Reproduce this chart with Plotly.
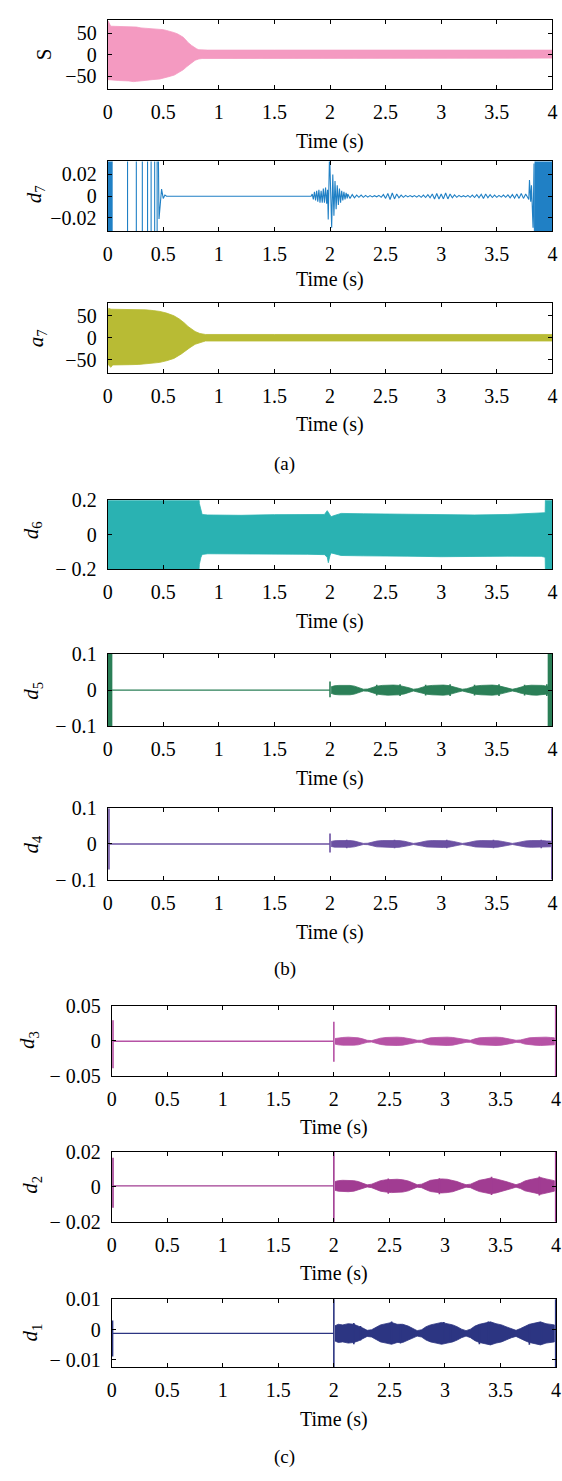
import plotly.graph_objects as go

FIG_W, FIG_H = 562, 1481
FONT = "Liberation Serif, serif"

TIME_TICKS = [0, 0.5, 1, 1.5, 2, 2.5, 3, 3.5, 4]
TIME_LABELS = ["0", "0.5", "1", "1.5", "2", "2.5", "3", "3.5", "4"]

# ---------------- (a) ----------------
S_t = [0.000, 0.005, 0.027, 0.10, 0.19, 0.23, 0.26, 0.30, 0.34, 0.40, 0.47, 0.50, 0.53, 0.565, 0.60, 0.63,
       0.66, 0.68, 0.71, 0.72, 0.755, 0.787, 0.80, 0.82, 0.85, 0.90, 1.50, 2.00, 2.50, 3.00, 3.50, 4.00]
S_hi = [62, 78, 66, 65.5, 65.5, 65.5, 64, 62, 61.5, 60.5, 59.5, 58, 56, 54, 51, 48,
        44, 40.3, 32, 28.8, 21.3, 15.2, 13.5, 11.4, 10.5, 10.5, 10.5, 10.5, 10.5, 10.5, 10.5, 10.5]
S_lo = [-54, -58, -59, -60, -61, -62.6, -62, -60.3, -59, -58, -56.5, -55, -52.6, -50, -47.3, -43,
        -38.2, -35, -28.3, -25.5, -19.2, -13, -11.4, -10, -9, -8, -8, -8, -8, -8, -8, -8]

D7_BLOCK_START = [0.0, 3.842]
D7_BLOCK_END = [0.043, 4.0]
D7_BLOCK_AMP = 0.1
D7_t = [0.043, 0.179, 0.179, 0.258, 0.258, 0.312, 0.312, 0.359, 0.359, 0.391, 0.391, 0.423, 0.423,
        0.445, 0.445, 0.450, 0.462, 0.485, 0.500, 0.515, 0.530,
        1.830, 1.840, 1.850, 1.860, 1.870, 1.880, 1.890, 1.900, 1.910, 1.920, 1.930, 1.940, 1.950,
        1.960, 1.970, 1.978, 1.984, 1.996, 2.015, 2.025, 2.035, 2.045, 2.055, 2.065, 2.075, 2.085,
        2.095, 2.105, 2.115, 2.125, 2.135, 2.145, 2.155,
        2.16, 2.18, 2.20, 2.22, 2.24, 2.26, 2.28, 2.30, 2.32, 2.34, 2.36, 2.38, 2.40, 2.42, 2.44,
        2.46, 2.48, 2.50, 2.52, 2.54, 2.56, 2.58, 2.60, 2.62, 2.64, 2.66, 2.68, 2.70, 2.72, 2.74,
        2.76, 2.78, 2.80, 2.82, 2.84, 2.86, 2.88, 2.90, 2.92, 2.94, 2.96, 2.98, 3.00, 3.02, 3.04,
        3.06, 3.08, 3.10, 3.12, 3.14, 3.16, 3.18, 3.20, 3.22, 3.24, 3.26, 3.28, 3.30, 3.32, 3.34,
        3.36, 3.38, 3.40, 3.42, 3.44, 3.46, 3.48, 3.50, 3.52, 3.54, 3.56, 3.58, 3.60, 3.62, 3.64,
        3.66, 3.68, 3.70, 3.72, 3.74, 3.76, 3.78,
        3.788, 3.794, 3.805, 3.812, 3.826, 3.835, 3.842]
D7_v = [-0.1, -0.1, 0.1, 0.1, -0.1, -0.1, 0.1, 0.1, -0.1, -0.1, 0.1, 0.1, -0.1,
        -0.1, 0.1, 0.1, -0.021, 0.0066, -0.002, 0.001, 0.0,
        0.0, 0.002, -0.003, 0.004, -0.004, 0.005, -0.005, 0.006, -0.006, 0.005, -0.006, 0.007, -0.006,
        0.008, -0.007, 0.006, -0.0215, 0.04, -0.029, 0.02, -0.018, 0.014, -0.012, 0.010, -0.008, 0.007,
        -0.006, 0.005, -0.004, 0.004, -0.003, 0.003, -0.002,
        0.002, -0.002, 0.0015, -0.0015, 0.001, -0.001, 0.001, -0.001, 0.0008, -0.0008, 0.0006, -0.0006, 0.0005, -0.0005, 0.0008,
        -0.001, 0.0015, -0.002, 0.0025, -0.003, 0.003, -0.0025, 0.002, -0.0015, 0.001, -0.001, 0.0008, -0.0006, 0.0006, -0.0005,
        0.0006, -0.0008, 0.0008, -0.001, 0.001, -0.0012, 0.0015, -0.0015, 0.002, -0.0025, 0.0025, -0.0025, 0.002, -0.0025, 0.003,
        -0.0025, 0.002, -0.0015, 0.0012, -0.001, 0.0008, -0.0006, 0.0005, -0.0006, 0.0008, -0.001, 0.001, -0.0012, 0.0015, -0.0015,
        0.0018, -0.002, 0.002, -0.0015, 0.0015, -0.0012, 0.001, -0.001, 0.0008, -0.0008, 0.001, -0.001, 0.0012, -0.0015, 0.0015,
        -0.0018, 0.002, -0.002, 0.0025, -0.002, 0.002, -0.0015,
        -0.003, 0.0148, -0.005, 0.010, -0.029, 0.03, -0.1]

A7_t = [0.000, 0.010, 0.030, 0.045, 0.20, 0.28, 0.34, 0.41, 0.47, 0.53, 0.596, 0.645, 0.66, 0.69, 0.723,
        0.74, 0.787, 0.83, 0.85, 0.88, 1.50, 2.00, 2.50, 3.00, 3.50, 4.00]
A7_hi = [60, 67, 65, 65, 65, 65, 63.6, 62, 60, 56.2, 50.2, 42.8, 40, 33.9, 26,
         22.8, 14.5, 10, 9, 7.8, 7.8, 7.8, 7.8, 7.8, 7.8, 7.8]
A7_lo = [-55, -62, -66.6, -61.3, -60.6, -60, -59.1, -57, -55.4, -51.7, -46.5, -39, -36.8, -31, -25.6,
         -22, -14.4, -10.5, -9.3, -7, -7, -7, -7, -7, -7, -7]

# ---------------- (b) ----------------
D6_t = [0.000, 0.812, 0.825, 0.838, 0.850, 0.90, 1.20, 1.50, 1.80, 1.95, 1.975, 1.985, 2.000, 2.010, 2.030,
        2.10, 2.30, 2.50, 2.70, 3.00, 3.30, 3.60, 3.90, 3.935, 3.940, 4.000]
D6_hi = [0.3, 0.3, 0.181, 0.143, 0.118, 0.115, 0.113, 0.117, 0.116, 0.118, 0.140, 0.130, 0.115, 0.105, 0.110,
         0.124, 0.122, 0.120, 0.118, 0.114, 0.115, 0.118, 0.126, 0.128, 0.3, 0.3]
D6_lo = [-0.3, -0.3, -0.171, -0.133, -0.114, -0.110, -0.110, -0.112, -0.113, -0.115, -0.130, -0.162, -0.120,
         -0.105, -0.110, -0.120, -0.122, -0.125, -0.124, -0.127, -0.126, -0.124, -0.125, -0.130, -0.3, -0.3]

BURST_T = [2.01, 2.04, 2.08, 2.13, 2.18, 2.22, 2.26, 2.30,
           2.34, 2.38, 2.42, 2.47, 2.52, 2.57, 2.62, 2.67, 2.71, 2.75,
           2.79, 2.83, 2.87, 2.92, 2.97, 3.02, 3.07, 3.11, 3.15, 3.19,
           3.23, 3.27, 3.31, 3.36, 3.41, 3.46, 3.51, 3.55, 3.60, 3.64,
           3.68, 3.72, 3.76, 3.81, 3.86, 3.91, 3.95, 3.985]

D5_BASE = 0.0
D5_LINE_T = [0.04, 2.0]
D5_AMP = [0.009, 0.012, 0.013, 0.0135, 0.013, 0.011, 0.007, 0.0025,
          0.003, 0.007, 0.011, 0.013, 0.014, 0.014, 0.013, 0.0105, 0.0065, 0.0025,
          0.004, 0.008, 0.0115, 0.013, 0.014, 0.014, 0.0125, 0.0095, 0.0055, 0.0025,
          0.004, 0.008, 0.0115, 0.013, 0.014, 0.014, 0.0125, 0.0095, 0.0055, 0.0025,
          0.005, 0.009, 0.012, 0.0135, 0.014, 0.013, 0.011, 0.010]
D5_SPIKE_T = [2.0, 2.42, 2.63, 2.86, 3.08, 3.30, 3.52, 3.75, 3.95]
D5_SPIKE_HI = [0.024, 0.015, 0.016, 0.015, 0.016, 0.015, 0.016, 0.015, 0.016]
D5_SPIKE_LO = [-0.020, -0.015, -0.016, -0.015, -0.016, -0.015, -0.016, -0.015, -0.016]
D5_BLOCK_START = [0.0, 3.96]
D5_BLOCK_END = [0.04, 4.0]
D5_BLOCK_AMP = 0.2

D4_BASE = 0.0
D4_LINE_T = [0.012, 2.0]
D4_AMP = [0.007, 0.009, 0.0095, 0.010, 0.0095, 0.008, 0.005, 0.0015,
          0.002, 0.005, 0.008, 0.0095, 0.010, 0.010, 0.0095, 0.0075, 0.0045, 0.0015,
          0.003, 0.006, 0.0085, 0.0095, 0.010, 0.010, 0.009, 0.007, 0.004, 0.0015,
          0.003, 0.006, 0.0085, 0.0095, 0.010, 0.010, 0.009, 0.007, 0.004, 0.0015,
          0.0035, 0.0065, 0.0085, 0.0095, 0.010, 0.0095, 0.0085, 0.008]
D4_SPIKE_T = [0.012, 2.0, 2.15, 2.58, 3.05, 3.47, 3.90, 3.995]
D4_SPIKE_HI = [0.1, 0.029, 0.012, 0.012, 0.012, 0.012, 0.012, 0.2]
D4_SPIKE_LO = [-0.072, -0.024, -0.012, -0.012, -0.012, -0.012, -0.012, -0.2]

# ---------------- (c) ----------------
D3_BASE = -0.0005
D3_LINE_T = [0.012, 2.0]
D3_AMP = [0.004, 0.005, 0.0055, 0.006, 0.0055, 0.005, 0.0035, 0.0015,
          0.001, 0.003, 0.0045, 0.0055, 0.006, 0.006, 0.0055, 0.0045, 0.003, 0.0015,
          0.0015, 0.0035, 0.005, 0.0055, 0.006, 0.006, 0.0055, 0.0045, 0.003, 0.0015,
          0.0015, 0.0035, 0.005, 0.0055, 0.006, 0.006, 0.0055, 0.0045, 0.003, 0.0015,
          0.002, 0.004, 0.005, 0.0055, 0.006, 0.006, 0.0055, 0.005]
D3_SPIKE_T = [0.012, 2.0, 3.997]
D3_SPIKE_HI = [0.0298, 0.0275, 0.1]
D3_SPIKE_LO = [-0.039, -0.0298, -0.1]

D2_BASE = 0.0004
D2_LINE_T = [0.012, 2.0]
D2_AMP = [0.0025, 0.003, 0.0032, 0.0033, 0.003, 0.0025, 0.0015, 0.0006,
          0.001, 0.002, 0.003, 0.0035, 0.0038, 0.0038, 0.0035, 0.0028, 0.0018, 0.0007,
          0.001, 0.0022, 0.0032, 0.0036, 0.004, 0.0038, 0.0033, 0.0025, 0.0015, 0.0007,
          0.001, 0.0022, 0.0032, 0.0038, 0.0045, 0.004, 0.0033, 0.0025, 0.0015, 0.0007,
          0.0015, 0.0028, 0.0035, 0.004, 0.0048, 0.004, 0.0035, 0.003]
D2_SPIKE_T = [0.012, 2.0, 2.49, 2.95, 3.42, 3.85, 3.997]
D2_SPIKE_HI = [0.0165, 0.05, 0.0046, 0.0048, 0.0056, 0.0058, 0.05]
D2_SPIKE_LO = [-0.0121, -0.05, -0.0040, -0.0044, -0.0048, -0.0050, -0.05]

D1_BASE = -0.00124
D1_LINE_T = [0.012, 2.0]
D1_AMP = [0.0025, 0.003, 0.0028, 0.0032, 0.003, 0.0025, 0.0018, 0.001,
          0.0012, 0.002, 0.0028, 0.0032, 0.0036, 0.003, 0.003, 0.0024, 0.0016, 0.0009,
          0.0012, 0.0022, 0.0028, 0.0032, 0.0036, 0.0032, 0.0028, 0.0022, 0.0014, 0.0009,
          0.0014, 0.0024, 0.003, 0.0034, 0.0038, 0.0032, 0.0028, 0.0022, 0.0014, 0.001,
          0.0016, 0.0024, 0.003, 0.0034, 0.0038, 0.0032, 0.003, 0.0028]
D1_SPIKE_T = [0.008, 2.0, 2.18, 2.24, 2.52, 2.60, 2.99, 3.05, 3.31, 3.39, 3.76, 3.87, 3.997]
D1_SPIKE_HI = [0.003, 0.03, 0.0022, 0.0012, 0.0027, 0.0018, 0.0025, 0.0016, 0.0015, 0.0027, 0.0012, 0.0020, 0.03]
D1_SPIKE_LO = [-0.0089, -0.03, -0.0048, -0.0036, -0.0040, -0.0046, -0.0045, -0.0038, -0.0048, -0.0042, -0.0050, -0.0042, -0.03]

# ---------------- layout spec (pixels) ----------------
PANELS = [
    dict(box=(104.5, 557.3, 9.3, 79.3), yr=[-80, 80], yt=[-50, 0, 50], yl=["\u221250", "0", "50"],
         title="S", tpos=(39.4, 44.3), time_y=132, color="#F49AC1"),
    dict(box=(104.5, 557.3, 152.7, 223.3), yr=[-0.032, 0.032], yt=[-0.02, 0, 0.02],
         yl=["\u22120.02", "0", "0.02"], title="<i>d</i><sub>7</sub>", tpos=(30.5, 186), time_y=273,
         color="#2080C5"),
    dict(box=(104.5, 557.3, 296, 367.7), yr=[-80, 80], yt=[-50, 0, 50], yl=["\u221250", "0", "50"],
         title="<i>a</i><sub>7</sub>", tpos=(32, 331.7), time_y=420, color="#B8BB34"),
    dict(box=(104.5, 557.3, 496.7, 566.7), yr=[-0.2, 0.2], yt=[-0.2, 0, 0.2],
         yl=["\u2212 0.2", "0", "0.2"], title="<i>d</i><sub>6</sub>", tpos=(27.6, 527), time_y=620,
         color="#2AB2B2"),
    dict(box=(104.5, 557.3, 652.7, 726), yr=[-0.1, 0.1], yt=[-0.1, 0, 0.1],
         yl=["\u2212 0.1", "0", "0.1"], title="<i>d</i><sub>5</sub>", tpos=(27.6, 690), time_y=779,
         color="#2B7F57"),
    dict(box=(104.5, 557.3, 809.3, 881.7), yr=[-0.1, 0.1], yt=[-0.1, 0, 0.1],
         yl=["\u2212 0.1", "0", "0.1"], title="<i>d</i><sub>4</sub>", tpos=(27.6, 846), time_y=935,
         color="#6B50A2"),
    dict(box=(108.6, 561, 1010, 1081), yr=[-0.05, 0.05], yt=[-0.05, 0, 0.05],
         yl=["\u2212 0.05", "0", "0.05"], title="<i>d</i><sub>3</sub>", tpos=(24, 1045), time_y=1133,
         color="#B652A5"),
    dict(box=(108.6, 561, 1157.7, 1229), yr=[-0.02, 0.02], yt=[-0.02, 0, 0.02],
         yl=["\u2212 0.02", "0", "0.02"], title="<i>d</i><sub>2</sub>", tpos=(27, 1192), time_y=1282,
         color="#A13C92"),
    dict(box=(108.6, 561, 1307.7, 1376.7), yr=[-0.0124, 0.01], yt=[-0.01, 0, 0.01],
         yl=["\u2212 0.01", "0", "0.01"], title="<i>d</i><sub>1</sub>", tpos=(27, 1342), time_y=1430,
         color="#2C3582"),
]
CAPTIONS = [("(a)", 285, 460), ("(b)", 285, 972), ("(c)", 285, 1468)]


def px(xp):
    return xp / FIG_W


def py(yp):
    return 1 - yp / FIG_H


def band_xy(t, hi, lo):
    return list(t) + list(t)[::-1], list(hi) + list(lo)[::-1]


def blocks_xy(starts, ends, amp):
    xs, ys = [], []
    for a, b in zip(starts, ends):
        xs += [a, b, b, a, a, None]
        ys += [-amp, -amp, amp, amp, -amp, None]
    return xs, ys


def spikes_xy(ts, his, los):
    xs, ys = [], []
    for t, h, l in zip(ts, his, los):
        xs += [t, t, None]
        ys += [l, h, None]
    return xs, ys


fig = go.Figure()


def ax(i):
    return ("x", "y") if i == 0 else (f"x{i+1}", f"y{i+1}")


def add_band(i, t, hi, lo, color, lw=0.8):
    xa, ya = ax(i)
    x, y = band_xy(t, hi, lo)
    fig.add_trace(go.Scatter(x=x, y=y, xaxis=xa, yaxis=ya, mode="lines", fill="toself",
                             fillcolor=color, line=dict(color=color, width=lw),
                             hoverinfo="skip", showlegend=False))


def add_line(i, x, y, color, lw=1.2):
    xa, ya = ax(i)
    fig.add_trace(go.Scatter(x=x, y=y, xaxis=xa, yaxis=ya, mode="lines",
                             line=dict(color=color, width=lw), hoverinfo="skip",
                             showlegend=False, connectgaps=False))


def add_blocks(i, starts, ends, amp, color):
    xa, ya = ax(i)
    x, y = blocks_xy(starts, ends, amp)
    fig.add_trace(go.Scatter(x=x, y=y, xaxis=xa, yaxis=ya, mode="lines", fill="toself",
                             fillcolor=color, line=dict(color=color, width=0.5),
                             hoverinfo="skip", showlegend=False))


add_band(0, S_t, S_hi, S_lo, PANELS[0]["color"])
c = PANELS[1]["color"]
add_blocks(1, D7_BLOCK_START, D7_BLOCK_END, D7_BLOCK_AMP, c)
add_line(1, D7_t, D7_v, c, 1.1)
add_band(2, A7_t, A7_hi, A7_lo, PANELS[2]["color"])
add_band(3, D6_t, D6_hi, D6_lo, PANELS[3]["color"])

lower = [
    (4, D5_BASE, D5_LINE_T, D5_AMP, D5_SPIKE_T, D5_SPIKE_HI, D5_SPIKE_LO),
    (5, D4_BASE, D4_LINE_T, D4_AMP, D4_SPIKE_T, D4_SPIKE_HI, D4_SPIKE_LO),
    (6, D3_BASE, D3_LINE_T, D3_AMP, D3_SPIKE_T, D3_SPIKE_HI, D3_SPIKE_LO),
    (7, D2_BASE, D2_LINE_T, D2_AMP, D2_SPIKE_T, D2_SPIKE_HI, D2_SPIKE_LO),
    (8, D1_BASE, D1_LINE_T, D1_AMP, D1_SPIKE_T, D1_SPIKE_HI, D1_SPIKE_LO),
]
for i, base, lt, amp, st, sh, sl in lower:
    c = PANELS[i]["color"]
    add_line(i, lt, [base, base], c, 1.4)
    hi = [base + a for a in amp]
    lo = [base - a for a in amp]
    add_band(i, BURST_T, hi, lo, c)
    sx, sy = spikes_xy(st, sh, sl)
    add_line(i, sx, sy, c, 1.6)
    if i == 4:
        add_blocks(i, D5_BLOCK_START, D5_BLOCK_END, D5_BLOCK_AMP, c)

tickfont = dict(family=FONT, size=20, color="black")
annotations = []
layout = dict(width=FIG_W, height=FIG_H, margin=dict(l=0, r=0, t=0, b=0),
              paper_bgcolor="white", plot_bgcolor="white", showlegend=False,
              font=dict(family=FONT, size=20, color="black"))

for i, p in enumerate(PANELS):
    l, r, t, b = p["box"]
    xk = "xaxis" if i == 0 else f"xaxis{i+1}"
    yk = "yaxis" if i == 0 else f"yaxis{i+1}"
    xa, ya = ax(i)
    common = dict(showline=True, linecolor="black", linewidth=1, mirror="allticks",
                  ticks="inside", ticklen=4, tickwidth=1, tickcolor="black",
                  showgrid=False, zeroline=False, tickfont=tickfont, fixedrange=True,
                  ticklabeloverflow="allow")
    layout[xk] = dict(domain=[px(l), px(r)], range=[0, 4], anchor=ya, tickmode="array",
                      tickvals=TIME_TICKS, ticktext=TIME_LABELS, ticklabelstandoff=5, **common)
    layout[yk] = dict(domain=[py(b), py(t)], range=p["yr"], anchor=xa, tickmode="array",
                      tickvals=p["yt"], ticktext=p["yl"], ticklabelstandoff=6, **common)
    annotations.append(dict(text="Time (s)", x=px((l + r) / 2), y=py(p["time_y"]), xref="paper",
                            yref="paper", xanchor="center", yanchor="middle", showarrow=False,
                            font=dict(family=FONT, size=20, color="black")))
    annotations.append(dict(text=p["title"], x=px(p["tpos"][0]), y=py(p["tpos"][1]), xref="paper",
                            yref="paper", xanchor="center", yanchor="middle", showarrow=False,
                            textangle=-90, font=dict(family=FONT, size=21, color="black")))

for txt, xp_, yp_ in CAPTIONS:
    annotations.append(dict(text=txt, x=px(xp_), y=py(yp_), xref="paper", yref="paper",
                            xanchor="center", yanchor="middle", showarrow=False,
                            font=dict(family=FONT, size=19, color="black")))

layout["annotations"] = annotations
fig.update_layout(**layout)

fig.write_html("out.html", config={"displayModeBar": False},
               post_script="document.body.style.margin='0';document.body.style.overflow='hidden';")
